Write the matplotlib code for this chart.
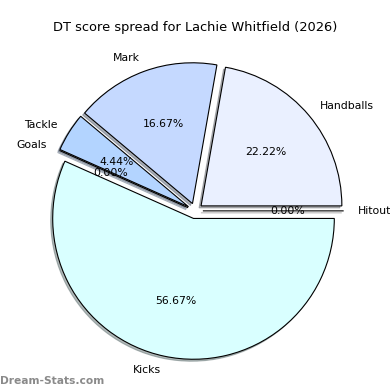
import matplotlib
matplotlib.use('Agg')
import matplotlib.pyplot as plt

# DT points per stat category (Lachie Whitfield, 2026)
labels = ['Hitout', 'Handballs', 'Mark', 'Tackle', 'Goals', 'Kicks']
points = [0, 20, 15, 4, 0, 51]
colours = ['#ffffff', '#eaf0ff', '#c5d9ff', '#b3d4ff', '#a8cfff', '#d9ffff']
explode = [0.055] * len(points)

fig = plt.figure(figsize=(3.9, 3.9), dpi=100)
ax = fig.add_axes([0.049, 0.008, 0.9026, 0.9026])

wedges, texts, autotexts = ax.pie(
    points, labels=labels, colors=colours, explode=explode,
    autopct='%1.2f%%', shadow={'ox': -0.01, 'oy': -0.01, 'shade': 0.55},
    startangle=0,
    wedgeprops={'edgecolor': 'black', 'linewidth': 0.8},
    textprops={'fontsize': 7.8})
ax.set_title('DT score spread for Lachie Whitfield (2026)', fontsize=9.4, pad=3)
ax.set_xlim(-1.25, 1.25)
ax.set_ylim(-1.25, 1.25)

fig.text(0.0, 0.015, 'Dream-Stats.com', color='#8a8a8a', fontsize=7.7,
         fontweight='bold')

plt.savefig('out.png', dpi=100)
